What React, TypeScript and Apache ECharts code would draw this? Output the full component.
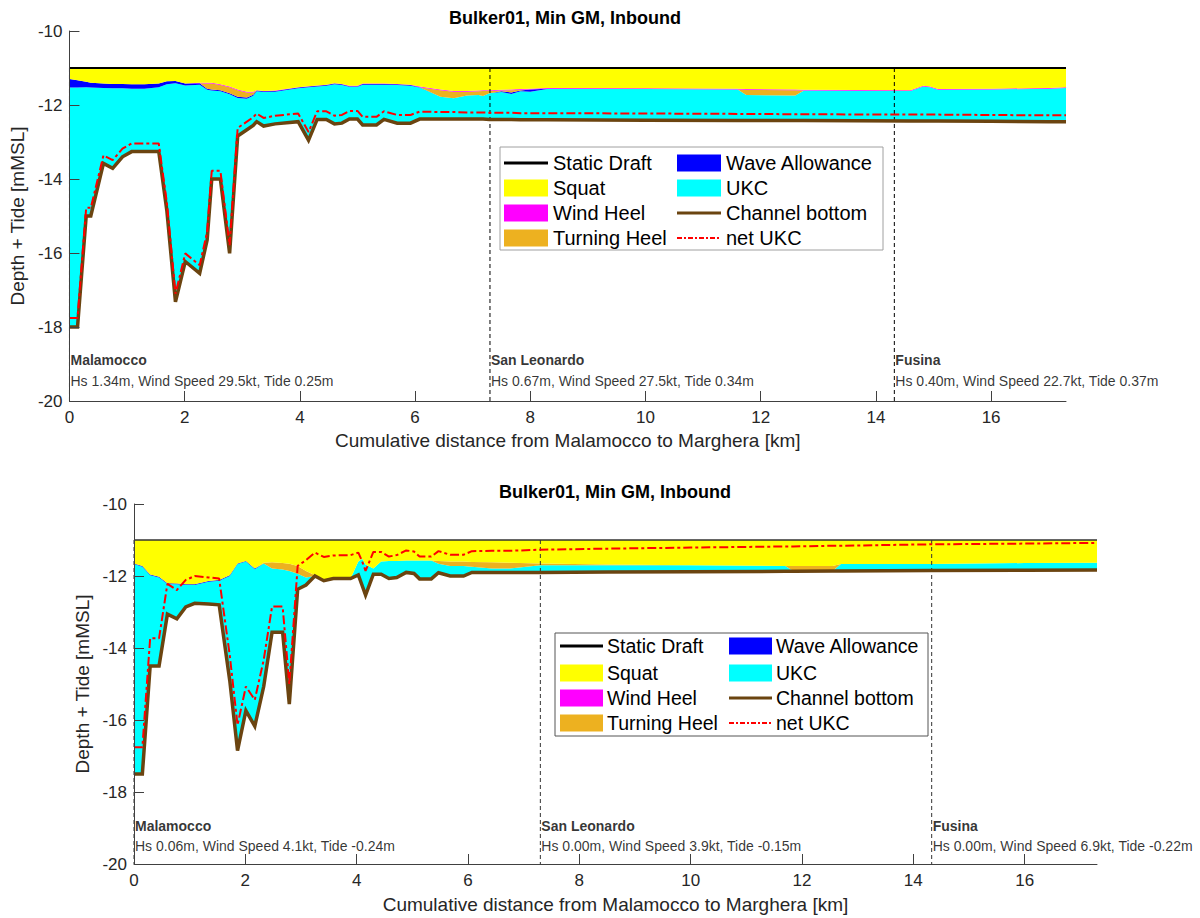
import React, { useEffect, useRef } from 'react';
import * as echarts from 'echarts';

// ---------- texts & ticks ----------
const TITLE = 'Bulker01, Min GM, Inbound';
const X_NAME = 'Cumulative distance from Malamocco to Marghera [km]';
const Y_NAME = 'Depth + Tide [mMSL]';
const xTicks = [0, 2, 4, 6, 8, 10, 12, 14, 16];
const yTicks = [-20, -18, -16, -14, -12, -10];
const X_MAX = 17.3;
const STATIC_DRAFT = -11;

const stationNames = ['Malamocco', 'San Leonardo', 'Fusina'];
const stationKmA = [0, 7.3, 14.32];
const stationInfoA = [
  'Hs 1.34m, Wind Speed 29.5kt, Tide 0.25m',
  'Hs 0.67m, Wind Speed 27.5kt, Tide 0.34m',
  'Hs 0.40m, Wind Speed 22.7kt, Tide 0.37m',
];
const stationKmB = [0, 7.3, 14.33];
const stationInfoB = [
  'Hs 0.06m, Wind Speed 4.1kt, Tide -0.24m',
  'Hs 0.00m, Wind Speed 3.9kt, Tide -0.15m',
  'Hs 0.00m, Wind Speed 6.9kt, Tide -0.22m',
];

// ---------- chart A (top) ----------
const xA = [
  0, 0.14, 0.29, 0.37, 0.59, 0.75, 0.92, 1.08, 1.30, 1.55,
  1.69, 1.84, 2.01, 2.26, 2.39, 2.47, 2.62, 2.78, 2.92, 3.08,
  3.19, 3.25, 3.37, 3.57, 3.97, 4.15, 4.30, 4.46, 4.60, 4.73,
  4.86, 5.00, 5.09, 5.33, 5.46, 5.69, 5.92, 6.08, 6.44, 6.67,
  6.90, 7.10, 7.18, 7.29, 7.50, 7.67, 7.83, 8.00, 8.29, 10.0,
  11.6, 11.75, 12.6, 12.75, 14.6, 14.82, 14.94, 15.08, 16.0, 17.0,
  17.3,
];
const bottomA = [
  -18.0, -18.0, -15.0, -15.0, -13.58, -13.71, -13.40, -13.26, -13.26, -13.26,
  -14.85, -17.32, -16.23, -16.55, -15.65, -14.0, -14.0, -16.01, -12.84, -12.67,
  -12.55, -12.45, -12.57, -12.51, -12.45, -12.95, -12.39, -12.39, -12.51, -12.49,
  -12.38, -12.38, -12.54, -12.54, -12.39, -12.49, -12.49, -12.38, -12.38, -12.38,
  -12.38, -12.38, -12.38, -12.39, -12.39, -12.39, -12.40, -12.40, -12.40, -12.41,
  -12.42, -12.42, -12.42, -12.42, -12.43, -12.43, -12.43, -12.43, -12.44, -12.45,
  -12.45,
];
const netUkcA = [
  -17.76, -17.76, -14.78, -14.78, -13.36, -13.49, -13.18, -13.04, -13.04, -13.04,
  -14.63, -17.10, -16.01, -16.33, -15.43, -13.78, -13.78, -15.79, -12.62, -12.45,
  -12.33, -12.23, -12.35, -12.29, -12.23, -12.73, -12.17, -12.17, -12.29, -12.27,
  -12.16, -12.16, -12.32, -12.32, -12.17, -12.27, -12.27, -12.18, -12.19, -12.19,
  -12.20, -12.20, -12.20, -12.21, -12.21, -12.21, -12.22, -12.22, -12.22, -12.23,
  -12.24, -12.24, -12.25, -12.25, -12.26, -12.26, -12.26, -12.26, -12.27, -12.28,
  -12.28,
];
const squatA = [
  0.30, 0.33, 0.37, 0.40, 0.42, 0.43, 0.43, 0.44, 0.44, 0.42,
  0.36, 0.35, 0.42, 0.40, 0.40, 0.40, 0.44, 0.50, 0.58, 0.64,
  0.64, 0.60, 0.62, 0.61, 0.52, 0.49, 0.47, 0.45, 0.41, 0.43,
  0.48, 0.48, 0.42, 0.42, 0.42, 0.43, 0.45, 0.50, 0.58, 0.62,
  0.62, 0.61, 0.60, 0.60, 0.59, 0.58, 0.57, 0.56, 0.54, 0.55,
  0.56, 0.57, 0.58, 0.59, 0.60, 0.48, 0.50, 0.57, 0.56, 0.54,
  0.52,
];
const windHeelA = [
  0, 0, 0, 0, 0, 0, 0, 0, 0, 0,
  0, 0, 0, 0.01, 0.02, 0.02, 0.02, 0.02, 0.02, 0.02,
  0.02, 0.01, 0.01, 0.01, 0.01, 0.01, 0.01, 0.01, 0.01, 0.01,
  0.01, 0.01, 0.01, 0.01, 0.01, 0.01, 0.01, 0.02, 0.02, 0.02,
  0.02, 0.02, 0.02, 0.02, 0.02, 0.02, 0.02, 0.02, 0.02, 0.02,
  0.02, 0.02, 0.02, 0.02, 0.02, 0.02, 0.02, 0.02, 0.02, 0.02,
  0.02,
];
const turningHeelA = [
  0, 0, 0, 0, 0, 0, 0, 0, 0, 0,
  0, 0, 0, 0, 0.14, 0.16, 0.14, 0.16, 0.18, 0.14,
  0.06, 0, 0, 0, 0, 0, 0, 0, 0, 0,
  0, 0, 0, 0, 0, 0, 0, 0, 0.18, 0.18,
  0.10, 0.10, 0.14, 0.06, 0.02, 0.06, 0.02, 0, 0, 0,
  0, 0.14, 0.14, 0, 0, 0, 0, 0, 0, 0,
  0,
];
const waveA = [
  0.23, 0.20, 0.15, 0.13, 0.12, 0.12, 0.12, 0.12, 0.12, 0.10,
  0.08, 0.06, 0.05, 0.04, 0.03, 0.03, 0.03, 0.03, 0.03, 0.03,
  0.03, 0.02, 0.02, 0.02, 0.02, 0.02, 0.02, 0.02, 0.02, 0.02,
  0.02, 0.02, 0.02, 0.02, 0.02, 0.02, 0.02, 0.01, 0, 0,
  0, 0, 0, 0, 0.02, 0.04, 0.02, 0.06, 0.01, 0,
  0, 0, 0, 0, 0, 0, 0, 0, 0, 0,
  0,
];

// ---------- chart B (bottom) ----------
const xB = [
  0, 0.15, 0.29, 0.45, 0.60, 0.77, 0.93, 1.09, 1.34, 1.53,
  1.72, 1.86, 2.01, 2.17, 2.33, 2.48, 2.67, 2.79, 2.94, 3.09,
  3.25, 3.41, 3.58, 3.89, 4.03, 4.10, 4.16, 4.30, 4.44, 4.58,
  4.72, 4.89, 5.03, 5.13, 5.34, 5.47, 5.68, 5.92, 6.07, 6.43,
  6.75, 7.30, 8.50, 10.0, 11.7, 11.85, 12.55, 12.7, 14.3, 16.0,
  17.3,
];
const bottomB = [
  -17.5, -17.5, -14.5, -14.5, -13.06, -13.19, -12.86, -12.76, -12.78, -12.80,
  -14.9, -16.85, -15.74, -16.17, -15.07, -13.56, -13.56, -15.56, -12.37, -12.25,
  -12.00, -12.13, -12.07, -12.07, -11.97, -12.27, -12.53, -11.95, -11.95, -12.07,
  -12.04, -11.90, -11.93, -12.08, -12.08, -11.91, -12.00, -12.00, -11.90, -11.90,
  -11.90, -11.90, -11.89, -11.88, -11.87, -11.87, -11.86, -11.86, -11.85, -11.84,
  -11.83,
];
const netUkcB = [
  -16.76, -16.76, -13.73, -13.73, -12.22, -12.39, -12.11, -12.00, -12.04, -12.07,
  -14.20, -16.14, -15.07, -15.44, -14.33, -12.85, -12.85, -15.00, -11.72, -11.56,
  -11.35, -11.47, -11.43, -11.42, -11.35, -11.60, -11.86, -11.33, -11.33, -11.46,
  -11.42, -11.29, -11.32, -11.46, -11.46, -11.31, -11.41, -11.41, -11.31, -11.30,
  -11.30, -11.27, -11.24, -11.21, -11.18, -11.18, -11.16, -11.16, -11.12, -11.10,
  -11.08,
];
const squatB = [
  0.65, 0.72, 0.96, 1.02, 1.20, 1.21, 1.23, 1.23, 1.14, 1.11,
  0.98, 0.65, 0.58, 0.79, 0.63, 0.62, 0.64, 0.66, 0.72, 0.86,
  0.98, 1.13, 1.07, 1.07, 0.60, 0.52, 0.68, 0.79, 0.60, 0.58,
  0.58, 0.57, 0.57, 0.57, 0.57, 0.58, 0.60, 0.60, 0.61, 0.62,
  0.63, 0.65, 0.68, 0.70, 0.72, 0.72, 0.72, 0.67, 0.67, 0.64,
  0.63,
];
const windHeelB = [
  0, 0, 0, 0, 0, 0, 0, 0, 0, 0,
  0, 0, 0, 0, 0, 0, 0, 0, 0, 0,
  0, 0, 0, 0, 0, 0, 0, 0, 0, 0,
  0, 0, 0, 0, 0, 0, 0, 0, 0, 0,
  0, 0, 0, 0, 0, 0, 0, 0, 0, 0,
  0,
];
const turningHeelB = [
  0, 0, 0, 0, 0, 0, 0, 0, 0, 0,
  0, 0, 0, 0, 0.02, 0.17, 0.18, 0.20, 0.22, 0.18,
  0.02, 0, 0, 0, 0, 0, 0, 0, 0, 0,
  0, 0, 0, 0, 0, 0.08, 0.12, 0.12, 0.13, 0.17,
  0.16, 0.05, 0.02, 0, 0, 0.15, 0.14, 0, 0, 0,
  0,
];
const waveB = [
  0.02, 0.02, 0.02, 0.02, 0.02, 0.02, 0.02, 0.02, 0.02, 0.02,
  0.02, 0.02, 0.02, 0.02, 0, 0, 0, 0, 0, 0,
  0, 0, 0, 0, 0, 0, 0, 0, 0, 0,
  0, 0, 0, 0, 0, 0, 0, 0, 0, 0,
  0, 0, 0, 0, 0, 0, 0, 0, 0, 0,
  0,
];

// ---------- styles ----------
const FONT = "'Liberation Sans', Arial, Helvetica, sans-serif";
const C = {
  draft: '#000000',
  squat: '#FFFF00',
  wind: '#FF00FF',
  turn: '#EDB120',
  wave: '#0000FF',
  ukc: '#00FFFF',
  bottom: '#6B4410',
  net: '#FF0000',
};
const legendEntries = [
  { name: 'Static Draft', kind: 'line', color: C.draft, width: 3 },
  { name: 'Squat', kind: 'rect', color: C.squat },
  { name: 'Wind Heel', kind: 'rect', color: C.wind },
  { name: 'Turning Heel', kind: 'rect', color: C.turn },
  { name: 'Wave Allowance', kind: 'rect', color: C.wave },
  { name: 'UKC', kind: 'rect', color: C.ukc },
  { name: 'Channel bottom', kind: 'line', color: C.bottom, width: 3 },
  { name: 'net UKC', kind: 'line', color: C.net, width: 2, dash: [5, 2, 2, 2] },
];

const ukcOf = (bottom: number[], squat: number[], wind: number[], turn: number[], wave: number[]) =>
  bottom.map((b, i) => Math.max(0, +(STATIC_DRAFT - squat[i] - wind[i] - turn[i] - wave[i] - b).toFixed(3)));

const charts = [
  {
    grid: { left: 65, top: 31, width: 1001, height: 370 },
    x: xA, bottom: bottomA, net: netUkcA, squat: squatA, wind: windHeelA, turn: turningHeelA, wave: waveA,
    stationKm: stationKmA, info: stationInfoA, nameY: -18.89, infoY: -19.46,
    draftColor: '#000', draftWidth: 2, dashColor: '#000',
    title: { x: 565, y: 18 },
    legend: { x: 500, y: 147, w: 383, h: 103, rows: [16, 41, 66, 91], c1: 4, c2: 177, iconW: 44, gap: 5, font: 20, border: '#a0a0a0' },
    xNameGap: 30, yNameGap: 37,
  },
  {
    grid: { left: 134, top: 504, width: 963, height: 360 },
    x: xB, bottom: bottomB, net: netUkcB, squat: squatB, wind: windHeelB, turn: turningHeelB, wave: waveB,
    stationKm: stationKmB, info: stationInfoB, nameY: -18.95, infoY: -19.5,
    draftColor: '#333', draftWidth: 1.5, dashColor: '#333',
    title: { x: 615, y: 492 },
    legend: { x: 555, y: 633, w: 373, h: 103, rows: [13, 40, 65, 90], c1: 5, c2: 174, iconW: 43, gap: 4, font: 19.5, border: '#555' },
    xNameGap: 31, yNameGap: 37,
  },
];

function buildSeries(c: any, g: number) {
  const stack = 'layers' + g;
  const base: any = {
    type: 'line', name: '_base' + g, xAxisIndex: g, yAxisIndex: g,
    stack, stackStrategy: 'all',
    data: c.x.map((x: number, i: number) => [c.bottom[i], x]),
    encode: { x: 1, y: 0 },
    symbol: 'none', showSymbol: false,
    lineStyle: { width: 0, opacity: 0 },
    silent: true, z: 2,
  };
  const band = (name: string, color: string, vals: number[]) => ({
    ...base,
    name,
    data: c.x.map((x: number, i: number) => [vals[i], x]),
    areaStyle: { color, opacity: 1 },
  });
  const ukc = ukcOf(c.bottom, c.squat, c.wind, c.turn, c.wave);
  const out: any[] = [
    base,
    band('UKC', C.ukc, ukc),
    band('Wave Allowance', C.wave, c.wave),
    band('Turning Heel', C.turn, c.turn),
    band('Wind Heel', C.wind, c.wind),
    band('Squat', C.squat, c.squat),
    {
      type: 'line', name: 'Static Draft', xAxisIndex: g, yAxisIndex: g,
      data: [[0, STATIC_DRAFT], [X_MAX, STATIC_DRAFT]],
      symbol: 'none', lineStyle: { color: c.draftColor, width: c.draftWidth }, silent: true, z: 3,
    },
  ];
  c.stationKm.forEach((k: number, i: number) => {
    out.push({
      type: 'line', name: 'station' + g + '_' + i, xAxisIndex: g, yAxisIndex: g,
      data: [[k, STATIC_DRAFT], [k, -20]],
      symbol: 'none', lineStyle: { color: c.dashColor, width: 1, type: [4, 3] }, silent: true, z: 4,
    });
  });
  out.push({
    type: 'line', name: 'Channel bottom', xAxisIndex: g, yAxisIndex: g,
    data: c.x.map((x: number, i: number) => [x, c.bottom[i]]),
    symbol: 'none', lineStyle: { color: C.bottom, width: 3.5, join: 'miter' }, silent: true, z: 5,
  });
  out.push({
    type: 'line', name: 'net UKC', xAxisIndex: g, yAxisIndex: g,
    data: c.x.map((x: number, i: number) => [x, c.net[i]]),
    symbol: 'none', lineStyle: { color: C.net, width: 2, type: [9, 3, 3, 3] }, silent: true, z: 6,
  });
  out.push({
    type: 'scatter', name: 'stationNames' + g, xAxisIndex: g, yAxisIndex: g, symbolSize: 0,
    data: c.stationKm.map((k: number, i: number) => ({ name: stationNames[i], value: [k, c.nameY] })),
    label: {
      show: true, position: [1, 0], align: 'left', verticalAlign: 'middle', formatter: '{b}',
      fontSize: 14, fontWeight: 'bold', color: '#000', fontFamily: FONT,
    },
    silent: true, z: 7,
  });
  out.push({
    type: 'scatter', name: 'stationInfo' + g, xAxisIndex: g, yAxisIndex: g, symbolSize: 0,
    data: c.stationKm.map((k: number, i: number) => ({ name: c.info[i], value: [k, c.infoY] })),
    label: {
      show: true, position: [1, 0], align: 'left', verticalAlign: 'middle', formatter: '{b}',
      fontSize: 14, color: '#000', fontFamily: FONT,
    },
    silent: true, z: 7,
  });
  return out;
}

function buildLegend(L: any) {
  const children: any[] = [
    { type: 'rect', shape: { x: 0, y: 0, width: L.w, height: L.h }, style: { fill: '#fff', stroke: L.border, lineWidth: 1 } },
  ];
  legendEntries.forEach((e: any, i: number) => {
    const col = i < 4 ? 0 : 1;
    const row = i % 4;
    const ix = col === 0 ? L.c1 : L.c2;
    const cy = L.rows[row];
    if (e.kind === 'rect') {
      children.push({ type: 'rect', shape: { x: ix, y: cy - 8.5, width: L.iconW, height: 17 }, style: { fill: e.color } });
    } else {
      children.push({
        type: 'line', shape: { x1: ix, y1: cy, x2: ix + L.iconW, y2: cy },
        style: { stroke: e.color, lineWidth: e.width, lineDash: e.dash || null },
      });
    }
    children.push({
      type: 'text', x: ix + L.iconW + L.gap, y: cy,
      style: { text: e.name, fontSize: L.font, fontFamily: FONT, fill: '#000', align: 'left', verticalAlign: 'middle' },
    });
  });
  return { type: 'group', x: L.x, y: L.y, z: 100, children };
}

function buildOption() {
  const axisColor = '#404040';
  return {
    animation: false,
    backgroundColor: '#ffffff',
    textStyle: { fontFamily: FONT },
    grid: charts.map((c) => ({ ...c.grid, containLabel: false })),
    xAxis: charts.map((c, g) => ({
      type: 'value', gridIndex: g, min: 0, max: X_MAX,
      axisLine: { show: true, onZero: false, lineStyle: { color: axisColor, width: 1 } },
      axisTick: { show: true, inside: true, length: 10, customValues: xTicks, lineStyle: { color: axisColor } },
      axisLabel: { customValues: xTicks, fontSize: 17, color: '#262626', margin: 8, fontFamily: FONT },
      splitLine: { show: false },
      name: X_NAME, nameLocation: 'middle', nameGap: c.xNameGap,
      nameTextStyle: { fontSize: 19, color: '#262626', fontFamily: FONT },
      z: 10,
    })),
    yAxis: charts.map((c, g) => ({
      type: 'value', gridIndex: g, min: yTicks[0], max: yTicks[yTicks.length - 1], interval: 2,
      axisLine: { show: true, onZero: false, lineStyle: { color: axisColor, width: 1 } },
      axisTick: { show: true, inside: true, length: 10, lineStyle: { color: axisColor } },
      axisLabel: { fontSize: 17, color: '#262626', margin: 7, fontFamily: FONT },
      splitLine: { show: false },
      name: Y_NAME, nameLocation: 'middle', nameGap: c.yNameGap, nameRotate: 90,
      nameTextStyle: { fontSize: 19, color: '#262626', fontFamily: FONT },
      z: 10,
    })),
    series: charts.flatMap((c, g) => buildSeries(c, g)),
    graphic: [
      ...charts.map((c) => ({
        type: 'text', x: c.title.x, y: c.title.y, z: 100,
        style: { text: TITLE, fontSize: 18, fontWeight: 'bold', fontFamily: FONT, fill: '#000', align: 'center', verticalAlign: 'middle' },
      })),
      ...charts.map((c) => buildLegend(c.legend)),
    ],
  };
}

export default function App() {
  const ref = useRef<HTMLDivElement>(null);
  useEffect(() => {
    if (!ref.current) return;
    const chart = echarts.init(ref.current, null, { renderer: 'svg' });
    chart.setOption(buildOption() as any);
    return () => chart.dispose();
  }, []);
  return (
    <div
      ref={ref}
      style={{ position: 'absolute', left: 0, top: 0, width: 1200, height: 918, background: '#fff' }}
    />
  );
}
